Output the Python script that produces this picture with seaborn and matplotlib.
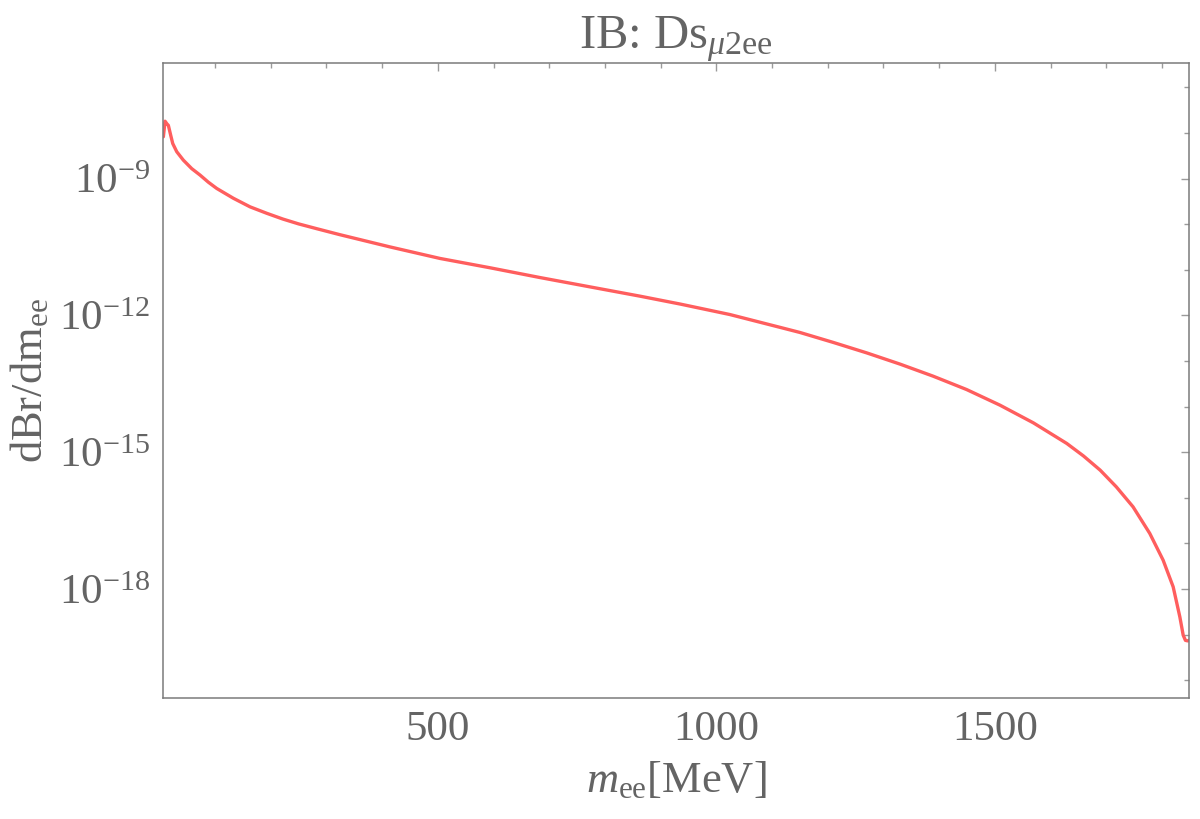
import numpy as np
import pandas as pd
import matplotlib
matplotlib.use("Agg")
import matplotlib.pyplot as plt
import seaborn as sns
from matplotlib.ticker import FixedLocator, NullFormatter

# ---- data ----
m_ee = [7.4, 10.4, 14.0, 16.3, 20.6, 24.2, 31.4, 43.2, 58.3, 73.2, 88.1, 103.2, 133.0,
        163.0, 193.0, 222.0, 250.0, 283.0, 324.0, 414.0, 504.0, 594.0, 683.0, 773.0,
        863.0, 935.0, 1024.0, 1114.0, 1150.0, 1210.0, 1270.0, 1330.0, 1389.0, 1449.0,
        1509.0, 1569.0, 1629.0, 1659.0, 1689.0, 1718.0, 1748.0, 1778.0, 1802.0, 1820.0,
        1832.0, 1838.0, 1842.0, 1846.0, 1850.0]
dbr = [8.3e-9, 1.82e-8, 1.58e-8, 1.48e-8, 8.9e-9, 5.9e-9, 3.9e-9, 2.55e-9, 1.66e-9, 1.2e-9,
       8.37e-10, 6.1e-10, 3.72e-10, 2.41e-10, 1.74e-10, 1.30e-10, 1.02e-10, 7.98e-11,
       5.92e-11, 3.19e-11, 1.78e-11, 1.11e-11, 6.8e-12, 4.24e-12, 2.65e-12, 1.78e-12,
       1.05e-12, 5.5e-13, 4.24e-13, 2.56e-13, 1.51e-13, 8.55e-14, 4.67e-14, 2.38e-14,
       1.08e-14, 4.42e-15, 1.56e-15, 8.3e-16, 4.05e-16, 1.74e-16, 6.35e-17, 1.66e-17,
       4.3e-18, 1.12e-18, 2.45e-19, 9.75e-20, 7.5e-20, 7.3e-20, 7.6e-20]

x_major = [500, 1000, 1500]
x_minor = [100, 200, 300, 400, 600, 700, 800, 900, 1100, 1200, 1300, 1400, 1600, 1700, 1800]
y_major_exp = [-9, -12, -15, -18]
y_minor_exp = [-20, -19, -17, -16, -14, -13, -11, -10, -8, -7]

title = r"IB: Ds$_{\mu\mathrm{2ee}}$"
xlabel = r"$m_{\mathrm{ee}}$[MeV]"
ylabel = r"dBr/dm$_{\mathrm{ee}}$"

# ---- style ----
sns.set_style("white")
plt.rcParams["font.family"] = ["Liberation Serif", "DejaVu Serif"]
plt.rcParams["mathtext.fontset"] = "custom"
plt.rcParams["mathtext.rm"] = "Liberation Serif"
plt.rcParams["mathtext.it"] = "Liberation Serif:italic"
plt.rcParams["mathtext.bf"] = "Liberation Serif:bold"

text_col = "#646464"
frame_col = "#7a7a7a"
tick_col = "#9a9a9a"
line_col = "#ff5e5e"

fig = plt.figure(figsize=(12, 8.19), dpi=100)
ax = fig.add_axes([0.1355, 0.1477, 0.8556, 0.775])

df = pd.DataFrame({"m_ee": m_ee, "dBr": dbr})
sns.lineplot(data=df, x="m_ee", y="dBr", ax=ax, color=line_col, linewidth=2.4,
             sort=False, estimator=None)

ax.set_yscale("log")
ax.set_xlim(6.0, 1849.0)
ax.set_ylim(10 ** -20.39, 10 ** -6.47)

ax.xaxis.set_major_locator(FixedLocator(x_major))
ax.xaxis.set_minor_locator(FixedLocator(x_minor))
ax.set_xticklabels([str(v) for v in x_major])
ax.xaxis.set_minor_formatter(NullFormatter())

ax.yaxis.set_major_locator(FixedLocator([10.0 ** e for e in y_major_exp]))
ax.yaxis.set_minor_locator(FixedLocator([10.0 ** e for e in y_minor_exp]))
ax.set_yticklabels([r"$10^{%d}$" % e for e in y_major_exp])
ax.yaxis.set_minor_formatter(NullFormatter())

ax.tick_params(axis="both", which="both", direction="in", top=True, right=True,
               color=tick_col, width=1.0, labelcolor=text_col, labelsize=31)
ax.tick_params(axis="both", which="major", length=6)
ax.tick_params(axis="both", which="minor", length=3.8)
ax.tick_params(axis="x", which="major", pad=9)
ax.tick_params(axis="y", which="major", pad=9)

for s in ax.spines.values():
    s.set_color(frame_col)
    s.set_linewidth(1.1)
    s.set_visible(True)

ax.set_xlabel(xlabel, fontsize=32, color=text_col, labelpad=8)
ax.set_ylabel(ylabel, fontsize=32, color=text_col, labelpad=6)
ax.set_title(title, fontsize=35, color=text_col, pad=11)

fig.savefig("out.png", dpi=100, facecolor="white")
